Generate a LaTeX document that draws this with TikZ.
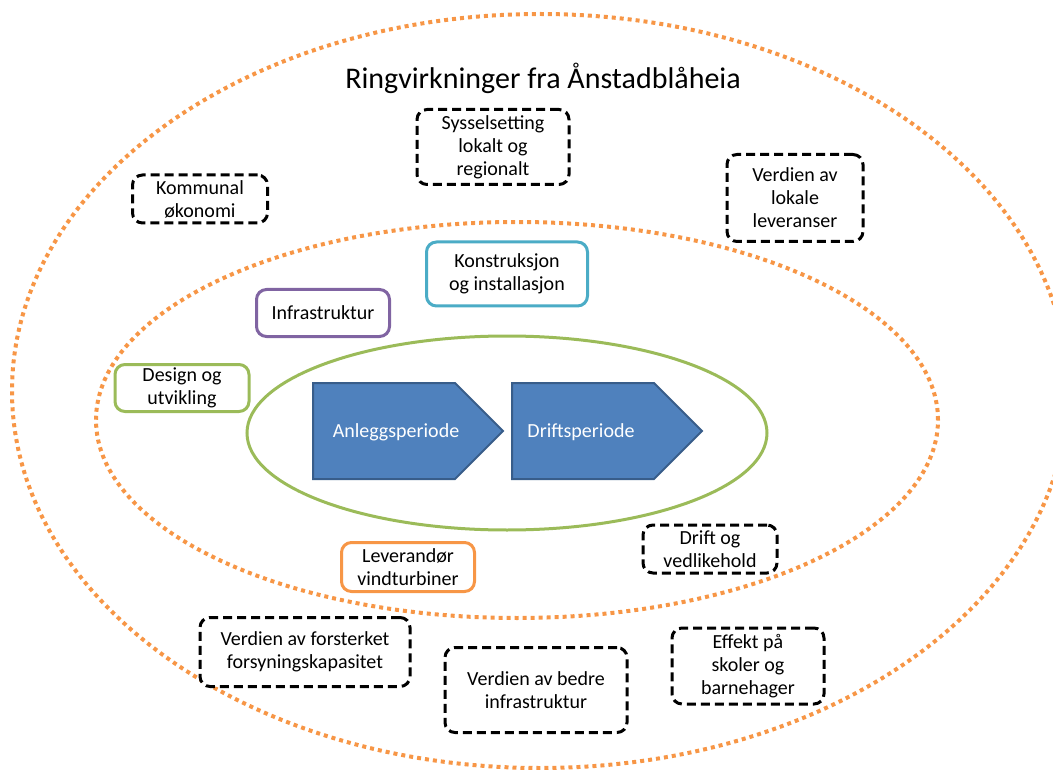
\documentclass[tikz,border=0pt]{standalone}
\usepackage{fontspec}
\setmainfont{Carlito}
\usepackage{xcolor}
\definecolor{ringorange}{HTML}{F79646}
\definecolor{ringgreen}{HTML}{9BBB59}
\definecolor{ringcyan}{HTML}{4BACC6}
\definecolor{ringpurple}{HTML}{8064A2}
\definecolor{chevblue}{HTML}{4F81BD}
\definecolor{chevborder}{HTML}{385D8A}

\begin{document}
\begin{tikzpicture}[x=1pt,y=-1pt,
  ring/.style={draw=ringorange,line width=4pt,dash pattern=on 4pt off 4pt},
  effect/.style={draw=black,fill=white,line width=3pt,dash pattern=on 9pt off 5pt,
                 rounded corners=10pt,align=center,font=\fontsize{20}{23}\selectfont,inner sep=2pt},
  phasebox/.style={draw=#1,fill=white,line width=3pt,rounded corners=10pt,
                   align=center,font=\fontsize{20}{23}\selectfont,inner sep=2pt},
  period/.style={fill=chevblue,draw=chevborder,line width=2pt,line join=miter},
  periodtext/.style={text=white,font=\fontsize{20}{23}\selectfont}]
  \useasboundingbox (0,0) rectangle (1053,770);
  % rings
  \draw[ring] (540,391) ellipse [x radius=528pt, y radius=377pt];
  \draw[ring] (517,420) ellipse [x radius=421pt, y radius=198pt];
  \draw[draw=ringgreen,line width=3pt] (507,433) ellipse [x radius=260pt, y radius=97pt];
  \node[font=\fontsize{30}{34}\selectfont] (title) at (543,78) {Ringvirkninger fra Ånstadblåheia};
  % periods
  \draw[period] (313,383) -- (455,383) -- (503,431) -- (455,479) -- (313,479) -- cycle;
  \draw[period] (512,383) -- (654,383) -- (702,431) -- (654,479) -- (512,479) -- cycle;
  \node[periodtext] (anlegg) at (396,432) {Anleggsperiode};
  \node[periodtext] (drift) at (581,432) {Driftsperiode};
  % inner ring
  \node[phasebox=ringcyan,minimum width=161pt,minimum height=64pt] (konstr) at (507,274) {Konstruksjon\\og installasjon};
  \node[phasebox=ringpurple,minimum width=133pt,minimum height=47pt] (infra) at (323,313) {Infrastruktur};
  \node[phasebox=ringgreen,minimum width=134pt,minimum height=47pt] (design) at (182,388) {Design og\\utvikling};
  \node[phasebox=ringorange,minimum width=133pt,minimum height=49pt] (leverandor) at (408,567) {Leverandør\\vindturbiner};
  % outer ring
  \node[effect,minimum width=152pt,minimum height=75pt] (syss) at (493,147) {Sysselsetting\\lokalt og\\regionalt};
  \node[effect,minimum width=135pt,minimum height=48pt] (kommunal) at (200,199) {Kommunal\\økonomi};
  \node[effect,minimum width=136pt,minimum height=87pt] (lokale) at (795,198) {Verdien av\\lokale\\leveranser};
  \node[effect,minimum width=134pt,minimum height=48pt] (vedlikehold) at (710,549) {Drift og\\vedlikehold};
  \node[effect,minimum width=152pt,minimum height=76pt] (skoler) at (748,666) {Effekt på\\skoler og\\barnehager};
  \node[effect,minimum width=210pt,minimum height=69pt] (forsyning) at (305,652) {Verdien av forsterket\\forsyningskapasitet};
  \node[effect,minimum width=182pt,minimum height=85pt] (bedreinfra) at (536,690) {Verdien av bedre\\infrastruktur};
\end{tikzpicture}
\end{document}
